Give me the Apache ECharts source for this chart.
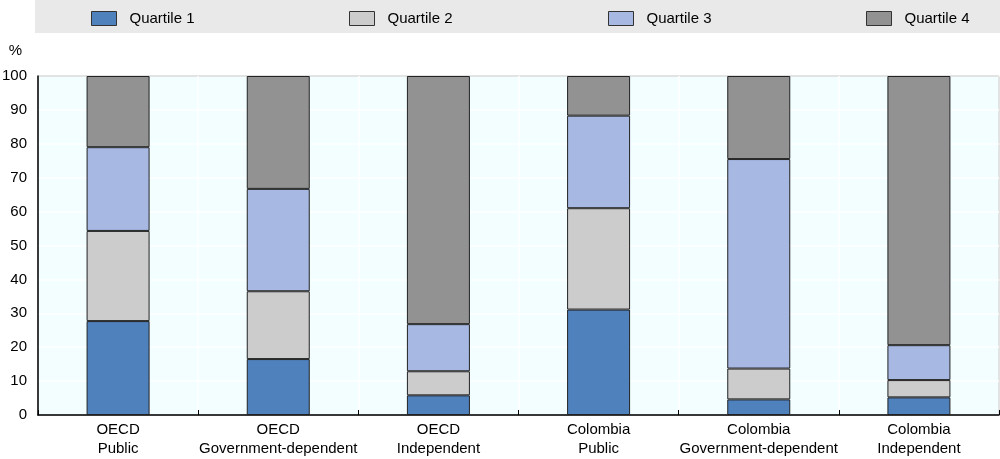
<!DOCTYPE html>
<html><head><meta charset="utf-8">
<script src="https://cdn.jsdelivr.net/npm/echarts@6/dist/echarts.min.js"></script>
<style>html,body{margin:0;padding:0;background:#fff}#c{width:1000px;height:459px}</style>
</head><body><div id="c"></div>
<script>
var categories = ["OECD\nPublic","OECD\nGovernment-dependent","OECD\nIndependent","Colombia\nPublic","Colombia\nGovernment-dependent","Colombia\nIndependent"];
var seriesNames = ["Quartile 1","Quartile 2","Quartile 3","Quartile 4"];
var q1 = [27.7,16.5,5.8,31.1,4.6,5.2];
var q2 = [26.6,20.0,7.1,29.9,9.1,5.1];
var q3 = [24.7,30.2,13.9,27.3,61.8,10.3];
var q4 = [21.0,33.3,73.2,11.7,24.5,79.4];
var yTicks = [0,10,20,30,40,50,60,70,80,90,100];

var colors = ["#4f81bd","#cccccc","#a7b9e3","#929292"];
var font = "'Liberation Sans',Arial,sans-serif";
var data = [q1,q2,q3,q4];
var legendLefts = [91,349,608,866];
var chart = echarts.init(document.getElementById('c'));
chart.setOption({
  animation:false,
  graphic:[{type:'rect',left:35,top:0,shape:{width:965,height:33},style:{fill:'#e9e9e9'},z:-1}],
  legend: seriesNames.map(function(n,i){return {data:[{name:n,icon:'rect'}],left:legendLefts[i],top:11,itemWidth:25,itemHeight:14,itemGap:0,padding:0,
    textStyle:{fontFamily:font,fontSize:15,color:'#000',padding:[0,0,0,8]},
    itemStyle:{borderColor:'#333',borderWidth:1}};}),
  grid:{left:38,right:1,top:76,bottom:44,containLabel:false,outerBoundsMode:'none',show:true,backgroundColor:'#f2feff',borderColor:'#222',borderWidth:1},
  xAxis:{type:'category',data:categories,
    axisLine:{lineStyle:{color:'#000',width:1.5}},
    axisTick:{show:true,inside:true,length:5,lineStyle:{color:'#000'}},
    splitLine:{show:true,lineStyle:{color:'#fff',width:1.5}},
    axisLabel:{interval:0,fontFamily:font,fontSize:15,color:'#000',lineHeight:19,margin:5}},
  yAxis:{type:'value',min:0,max:100,interval:10,
    name:'%',nameLocation:'end',nameGap:18,nameTextStyle:{fontFamily:font,fontSize:15,color:'#000',align:'right',padding:[0,16,0,0]},
    axisLine:{show:true,lineStyle:{color:'#000',width:1.5}},
    axisTick:{show:false},
    splitLine:{show:true,lineStyle:{color:'#fff',width:1.5}},
    axisLabel:{fontFamily:font,fontSize:15,color:'#000',margin:11,
      formatter:function(v){return yTicks.indexOf(v)>=0?String(v):'';}}},
  series: seriesNames.map(function(n,i){return {name:n,type:'bar',stack:'a',data:data[i],barWidth:63,
    itemStyle:{color:colors[i],borderColor:'#222',borderWidth:1}};})
});
</script></body></html>
